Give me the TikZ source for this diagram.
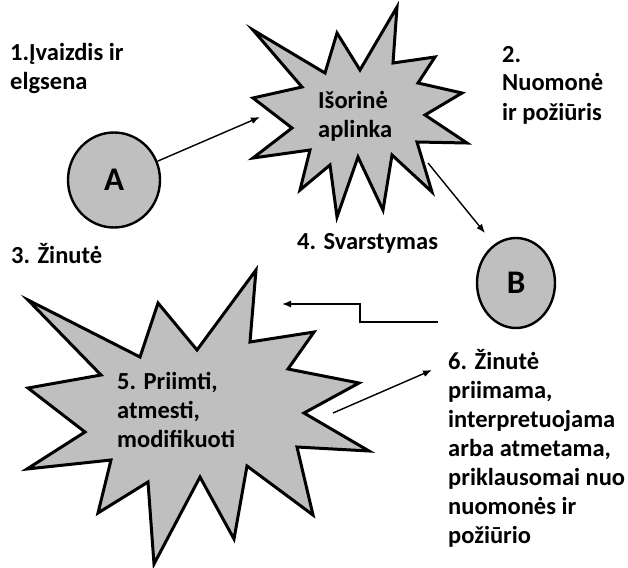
\documentclass[tikz,border=0pt]{standalone}
\usepackage{fontspec}
\setmainfont{Carlito}
\usepackage{tikz}
\usetikzlibrary{arrows.meta,shapes.geometric}
\definecolor{BurstGray}{RGB}{191,191,191}

\begin{document}
\begin{tikzpicture}[x=1pt,y=-1pt,
  lbl/.style={font=\fontsize{24.5}{29}\selectfont\bfseries,align=left,inner sep=0pt,anchor=base west},
  burst/.style={draw=black,line width=3pt,fill=BurstGray,line join=miter},
  party/.style={ellipse,draw=black,line width=2.4pt,fill=BurstGray,inner sep=0pt,font=\fontsize{33}{36}\selectfont\bfseries},
  msg/.style={line width=1.4pt,-{Latex[length=9pt,width=7pt]}}]
\fill[white] (0,0) rectangle (628,567);
\useasboundingbox (0,0) rectangle (628,567);
% outer environment burst
\draw[burst] (253,30) -- (325,73) -- (337,33) -- (360,70) -- (397,7) -- (393,63)
   -- (435,57) -- (418,83) -- (462,93) -- (425,115) -- (467,143) -- (417,142)
   -- (432,192) -- (392,155) -- (383,210) -- (358,157) -- (337,217) -- (330,165)
   -- (300,190) -- (310,150) -- (253,158) -- (292,128) -- (253,98) -- (302,87) -- cycle;
% reaction burst
\draw[burst] (28,300) -- (140,357) -- (158,303) -- (197,350) -- (256,270) -- (250,342)
   -- (314,332) -- (288,369) -- (359,383) -- (304,413) -- (369,451) -- (297,447)
   -- (313,515) -- (247,466) -- (234,539) -- (200,477) -- (154,564) -- (148,482)
   -- (98,513) -- (111,460) -- (27,469) -- (85,432) -- (28,388) -- (101,375) -- cycle;
\node[party,minimum width=92pt,minimum height=95pt] (A) at (114,180) {A};
\node[party,minimum width=78pt,minimum height=90pt] (B) at (516,283) {B};
% multi-line labels sit on the baseline of their last line
\node[lbl] (env) at (318,137) {Išorinė\\aplinka};
\node[lbl] (image) at (10,90) {1.Įvaizdis ir\\elgsena};
\node[lbl] (opinion) at (502,120) {2.\\Nuomonė\\ir požiūris};
\node[lbl] (message) at (11,263) {3. Žinutė};
\node[lbl] (weighing) at (297,249) {4. Svarstymas};
\node[lbl] (verdict) at (117,447) {5. Priimti,\\atmesti,\\modifikuoti};
\node[lbl] (reception) at (448,543) {6. Žinutė\\priimama,\\interpretuojama\\arba atmetama,\\priklausomai nuo\\nuomonės ir\\požiūrio};
\coordinate (envIn) at (260,117);
\coordinate (envOut) at (428,163);
\coordinate (toB) at (485,233);
\coordinate (fbStart) at (438,322);
\coordinate (fbEnd) at (282,304);
\coordinate (verdictOut) at (333,413);
\coordinate (toReception) at (432,370);
\draw[msg] (A) -- (envIn);
\draw[msg] (envOut) -- (toB);
\draw[msg] (fbStart) -- ++(-78,0) |- (fbEnd);
\draw[msg] (verdictOut) -- (toReception);
\end{tikzpicture}
\end{document}
